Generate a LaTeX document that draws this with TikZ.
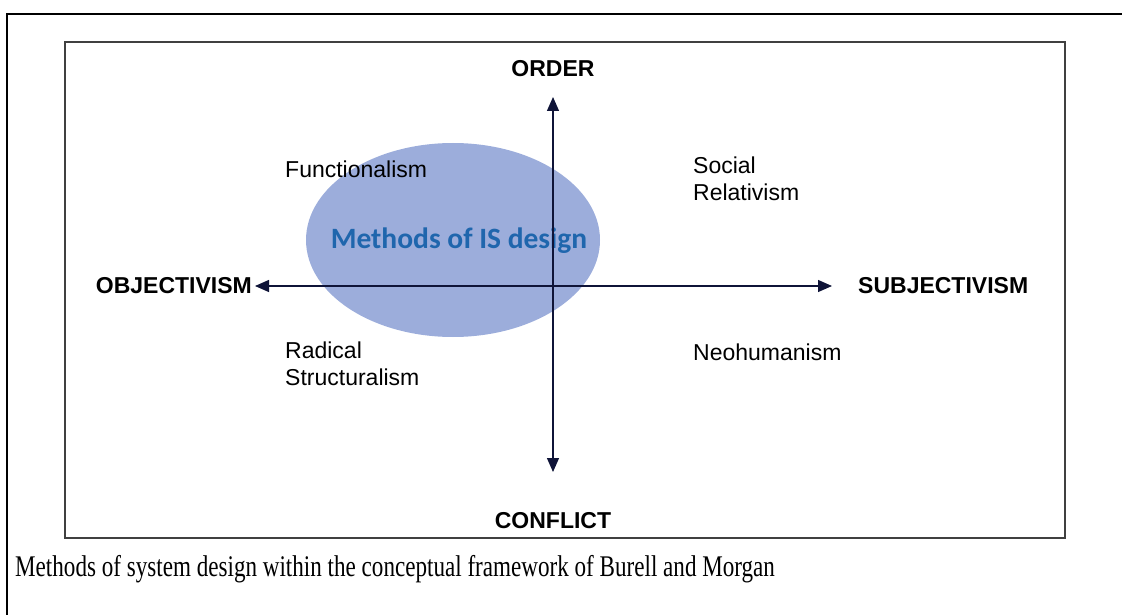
\documentclass[tikz,border=0pt]{standalone}
\usepackage{fontspec}
\setmainfont{Liberation Serif}
\setsansfont{Liberation Sans}
\newfontfamily\calibrifont{Carlito}
\usepackage{tikz}
\usetikzlibrary{arrows.meta,positioning}
\definecolor{oval blue}{rgb}{0.61, 0.68, 0.86}
\definecolor{label blue}{rgb}{0.12, 0.40, 0.68}
\definecolor{axis navy}{rgb}{0.06, 0.08, 0.22}

\begin{document}
\begin{tikzpicture}[x=1pt, y=-1pt,
		axislabel/.style={font=\sffamily\bfseries\fontsize{23}{27}\selectfont, inner sep=0pt},
		paradigm/.style={font=\sffamily\fontsize{23}{27}\selectfont, align=left, inner sep=0pt}]
			\useasboundingbox (0, 0) rectangle (1122, 615);
			% cell border (only top and left show)
			\draw[line width=2pt] (7, 615) -- (7, 14) -- (1122, 14);
			% inner frame
			\draw[line width=1.4pt, black!75] (65, 42) rectangle (1065, 538);
			% the oval for IS design
			\begin{scope}
				\fill[color = oval blue] (453, 240) ellipse (147 and 97);
				\node[text=label blue, font=\calibrifont\bfseries\fontsize{29.5}{32}\selectfont] (isdesign) at (459, 241) {Methods of IS design};
			\end{scope}
			% axes
			\coordinate (west) at (255, 286);
			\coordinate (east) at (832, 286);
			\coordinate (north) at (553, 97);
			\coordinate (south) at (553, 472);
			\draw[axis navy, line width=1.3pt, {Triangle[length=14pt,width=12pt]}-{Triangle[length=14pt,width=12pt]}] (west) -- (east);
			\draw[axis navy, line width=1.3pt, {Triangle[length=14pt,width=12pt]}-{Triangle[length=14pt,width=12pt]}] (north) -- (south);
			\node[axislabel, left=3pt of west] (objectivism) {OBJECTIVISM};
			\node[axislabel, right=26pt of east] (subjectivism) {SUBJECTIVISM};
			\node[axislabel] (order) at (553, 69) {ORDER};
			\node[axislabel] (conflict) at (553, 521) {CONFLICT};
			% the four paradigms
			\node[paradigm, anchor=west] (functionalism) at (285, 169) {Functionalism};
			\node[paradigm, anchor=north west] (relativism) at (693, 157) {Social\\Relativism};
			\node[paradigm, anchor=north west] (structuralism) at (285, 342) {Radical\\Structuralism};
			\node[paradigm, anchor=west] (neohumanism) at (693, 352) {Neohumanism};
			% caption
			\node[anchor=base west, font=\fontsize{30}{34}\selectfont, inner sep=0pt] (caption) at (15, 576) {\scalebox{0.77}[1]{Methods of system design within the conceptual framework of Burell and Morgan}};
		\end{tikzpicture}
\end{document}
